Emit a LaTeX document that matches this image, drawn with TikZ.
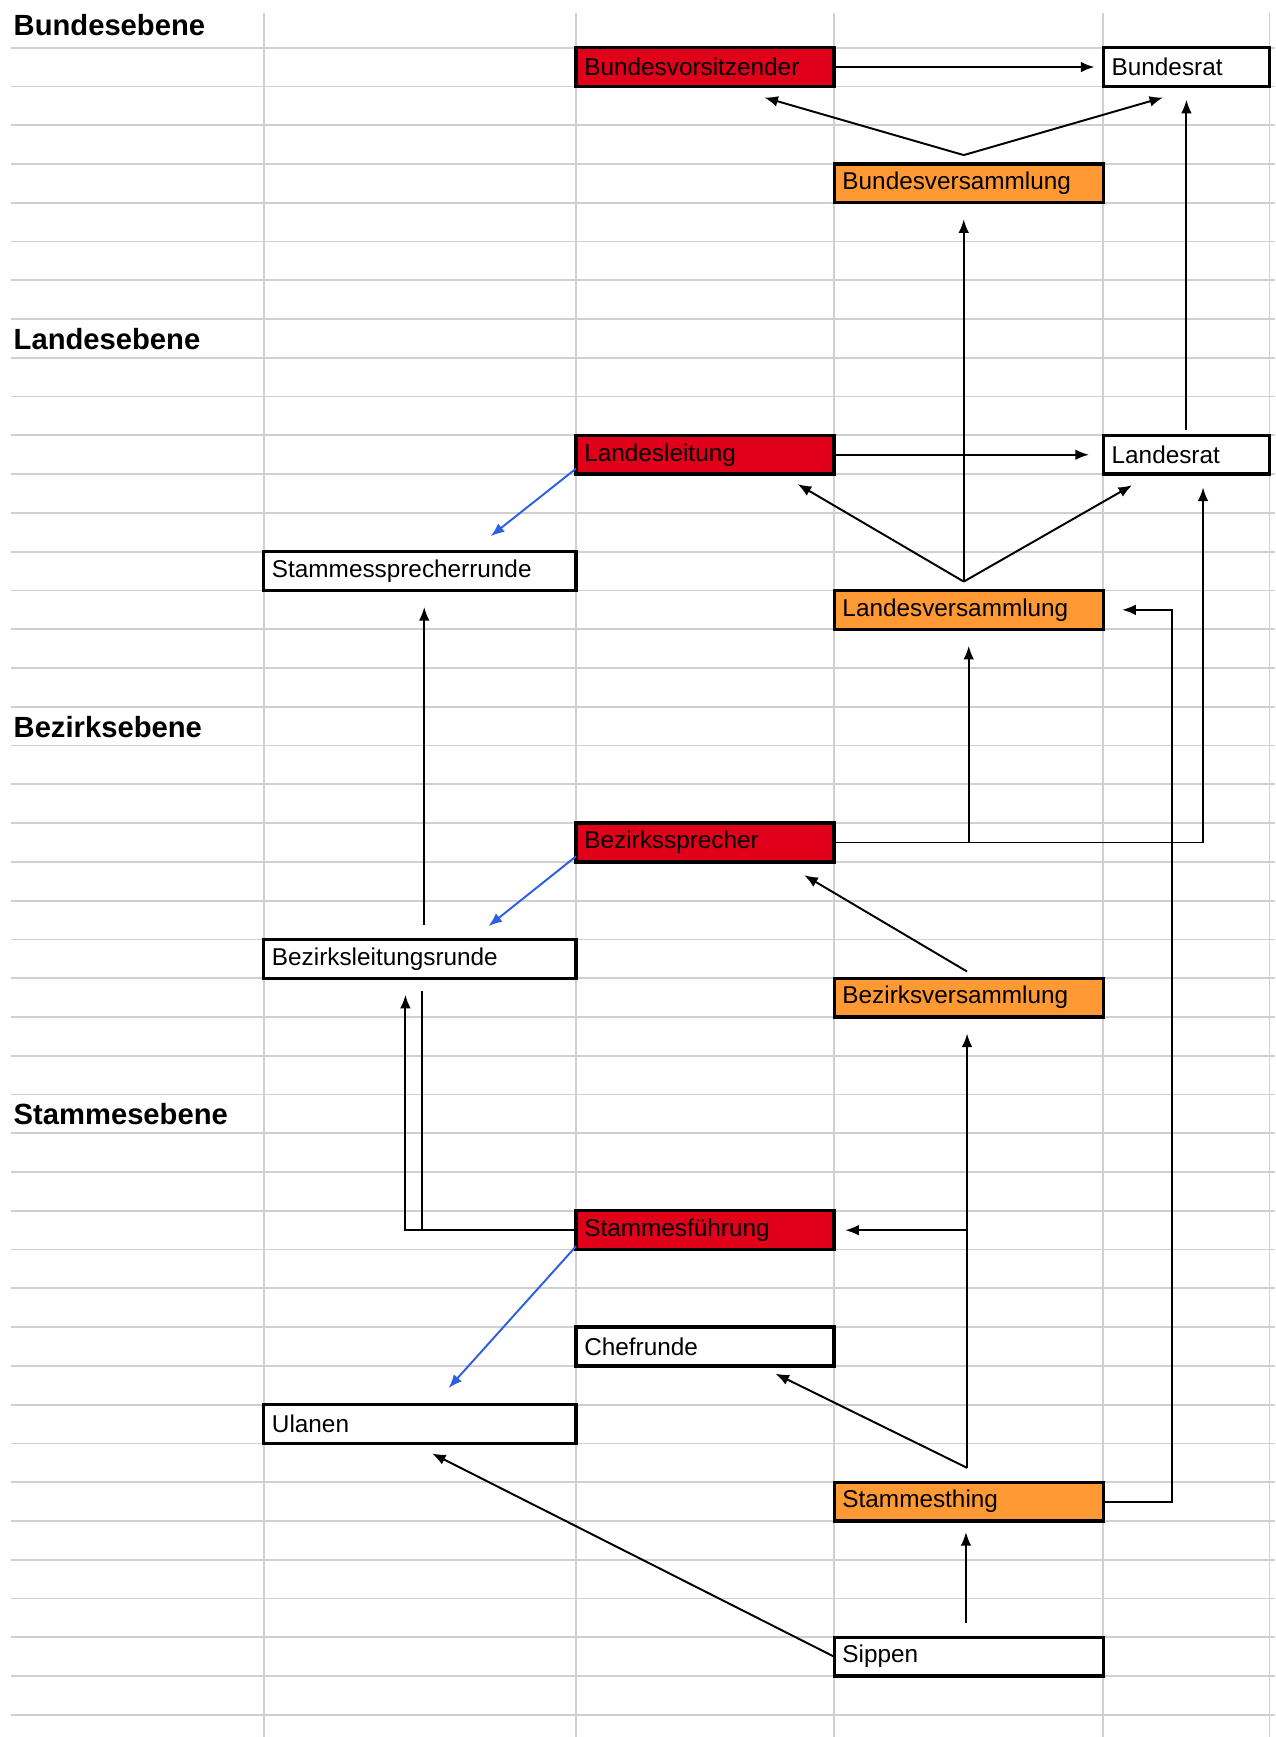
\documentclass[tikz,border=0pt]{standalone}
\usepackage{fontspec}
\setmainfont{Liberation Sans}
\usetikzlibrary{arrows.meta}
\definecolor{leitrot}{RGB}{224,0,26}
\definecolor{versorange}{RGB}{255,153,51}
\definecolor{gitter}{RGB}{208,208,208}
\definecolor{pfeilblau}{RGB}{45,95,230}

\begin{document}
\begin{tikzpicture}[x=0.02cm,y=-0.02cm,
  box/.style={draw,line width=1.7pt,anchor=north west,outer sep=0pt,inner xsep=0.15cm,inner ysep=0pt,
    minimum height=0.7cm,align=left,font=\fontsize{12.5}{14}\selectfont},
  colB/.style={box,text width=5.34cm},
  colC/.style={box,text width=4.36cm},
  colD/.style={box,text width=4.56cm},
  colE/.style={box,text width=2.7cm},
  leitung/.style={fill=leitrot},
  versammlung/.style={fill=versorange},
  ebene/.style={anchor=west,inner sep=0pt,font=\bfseries\fontsize{15}{18}\selectfont},
  arr/.style={line width=1pt,-{Latex[length=7pt,width=5.5pt]}},
  blau/.style={arr,draw=pfeilblau},
  verb/.style={line width=1pt}]
  \useasboundingbox (0,0) rectangle (1151,1568);
  \foreach \k in {0,...,43}
    \draw[gitter,line width=0.9pt] (10,{43+35*\k}) -- (1151,{43+35*\k});
  \foreach \xx in {238,520,753,996,1146}
    \draw[gitter,line width=0.9pt] (\xx,12) -- (\xx,1568);

  \node[ebene] (bund) at (12,23) {Bundesebene};
  \node[ebene] (land) at (12,306) {Landesebene};
  \node[ebene] (bezirk) at (12,656) {Bezirksebene};
  \node[ebene] (stamm) at (12,1006) {Stammesebene};

  \node[colC,leitung] (bvors) at (520,43) {Bundesvorsitzender};
  \node[colE,fill=white] (brat) at (996,43) {Bundesrat};
  \node[colD,versammlung] (bvers) at (753,148) {Bundesversammlung};
  \node[colC,leitung] (lleit) at (520,393) {Landesleitung};
  \node[colE,fill=white] (lrat) at (996,393) {Landesrat};
  \node[colB,fill=white] (ssr) at (238,498) {Stammessprecherrunde};
  \node[colD,versammlung] (lvers) at (753,533) {Landesversammlung};
  \node[colC,leitung] (bsp) at (520,743) {Bezirkssprecher};
  \node[colB,fill=white] (blr) at (238,848) {Bezirksleitungsrunde};
  \node[colD,versammlung] (bzvers) at (753,883) {Bezirksversammlung};
  \node[colC,leitung] (sf) at (520,1093) {Stammesführung};
  \node[colC,fill=white] (chef) at (520,1198) {Chefrunde};
  \node[colB,fill=white] (ulan) at (238,1268) {Ulanen};
  \node[colD,versammlung] (sthing) at (753,1338) {Stammesthing};
  \node[colD,fill=white] (sipp) at (753,1478) {Sippen};

  \coordinate (bvtop) at ([xshift=-0.09cm,yshift=0.16cm]bvers.north);
  \coordinate (lvtop) at ([xshift=-0.09cm,yshift=0.16cm]lvers.north);
  \coordinate (sttop) at ([xshift=-0.03cm,yshift=0.26cm]sthing.north);

  \draw[arr] (bvors.east) -- ([xshift=-0.16cm]brat.west);
  \draw[arr] (bvtop) -- ([xshift=1.07cm,yshift=-0.2cm]bvors.south);
  \draw[arr] (bvtop) -- ([xshift=-0.42cm,yshift=-0.2cm]brat.south);
  \draw[arr] ([yshift=0.1cm]lrat.north) -- ([yshift=-0.24cm]brat.south);
  \draw[arr] (lleit.east) -- ([xshift=-0.26cm]lrat.west);
  \draw[arr] (lvtop) -- ([xshift=-0.66cm,yshift=-0.18cm]lleit.south east);
  \draw[arr] (lvtop) -- ([xshift=0.52cm,yshift=-0.2cm]lrat.south west);
  \draw[arr,shorten >=0.3cm] (lvtop) -- (lvtop |- bvers.south);
  \draw[blau] ([yshift=0.1cm]lleit.south west) -- ([xshift=-1.54cm,yshift=0.28cm]ssr.north east);
  \draw[arr] ([xshift=0.08cm,yshift=0.26cm]blr.north) -- ([xshift=0.08cm,yshift=-0.3cm]ssr.south);
  \draw[arr] (bsp.east) -| ([xshift=0.3cm,yshift=-0.24cm]lrat.south);
  \draw[arr,shorten >=0.3cm] (bsp.east -| lvers.south) -- (lvers.south);
  \draw[arr] (sthing.east) -- ++(62,0) |- ([xshift=0.34cm]lvers.east);
  \draw[blau] ([yshift=0.1cm]bsp.south west) -- ([xshift=-1.58cm,yshift=0.24cm]blr.north east);
  \draw[arr] ([xshift=-0.03cm,yshift=0.12cm]bzvers.north) -- ([xshift=-0.54cm,yshift=-0.24cm]bsp.south east);
  \draw[arr] (sf.west) -| ([xshift=-0.26cm,yshift=-0.3cm]blr.south);
  \draw[verb] ([xshift=0.04cm,yshift=-0.24cm]blr.south) |- (sf.west);
  \draw[arr,shorten >=0.3cm] (sttop) -- (sttop |- bzvers.south);
  \draw[arr] (sf.east -| sttop) -- ([xshift=0.2cm]sf.east);
  \draw[arr] (sttop) -- ([xshift=-1.06cm,yshift=-0.14cm]chef.south east);
  \draw[blau] ([yshift=0.06cm]sf.south west) -- ([xshift=-2.3cm,yshift=0.3cm]ulan.north east);
  \draw[arr] (sipp.west) -- ([xshift=0.22cm,yshift=-0.18cm]ulan.south);
  \draw[arr] ([xshift=-0.05cm,yshift=0.26cm]sipp.north) -- ([xshift=-0.05cm,yshift=-0.2cm]sthing.south);
\end{tikzpicture}
\end{document}
